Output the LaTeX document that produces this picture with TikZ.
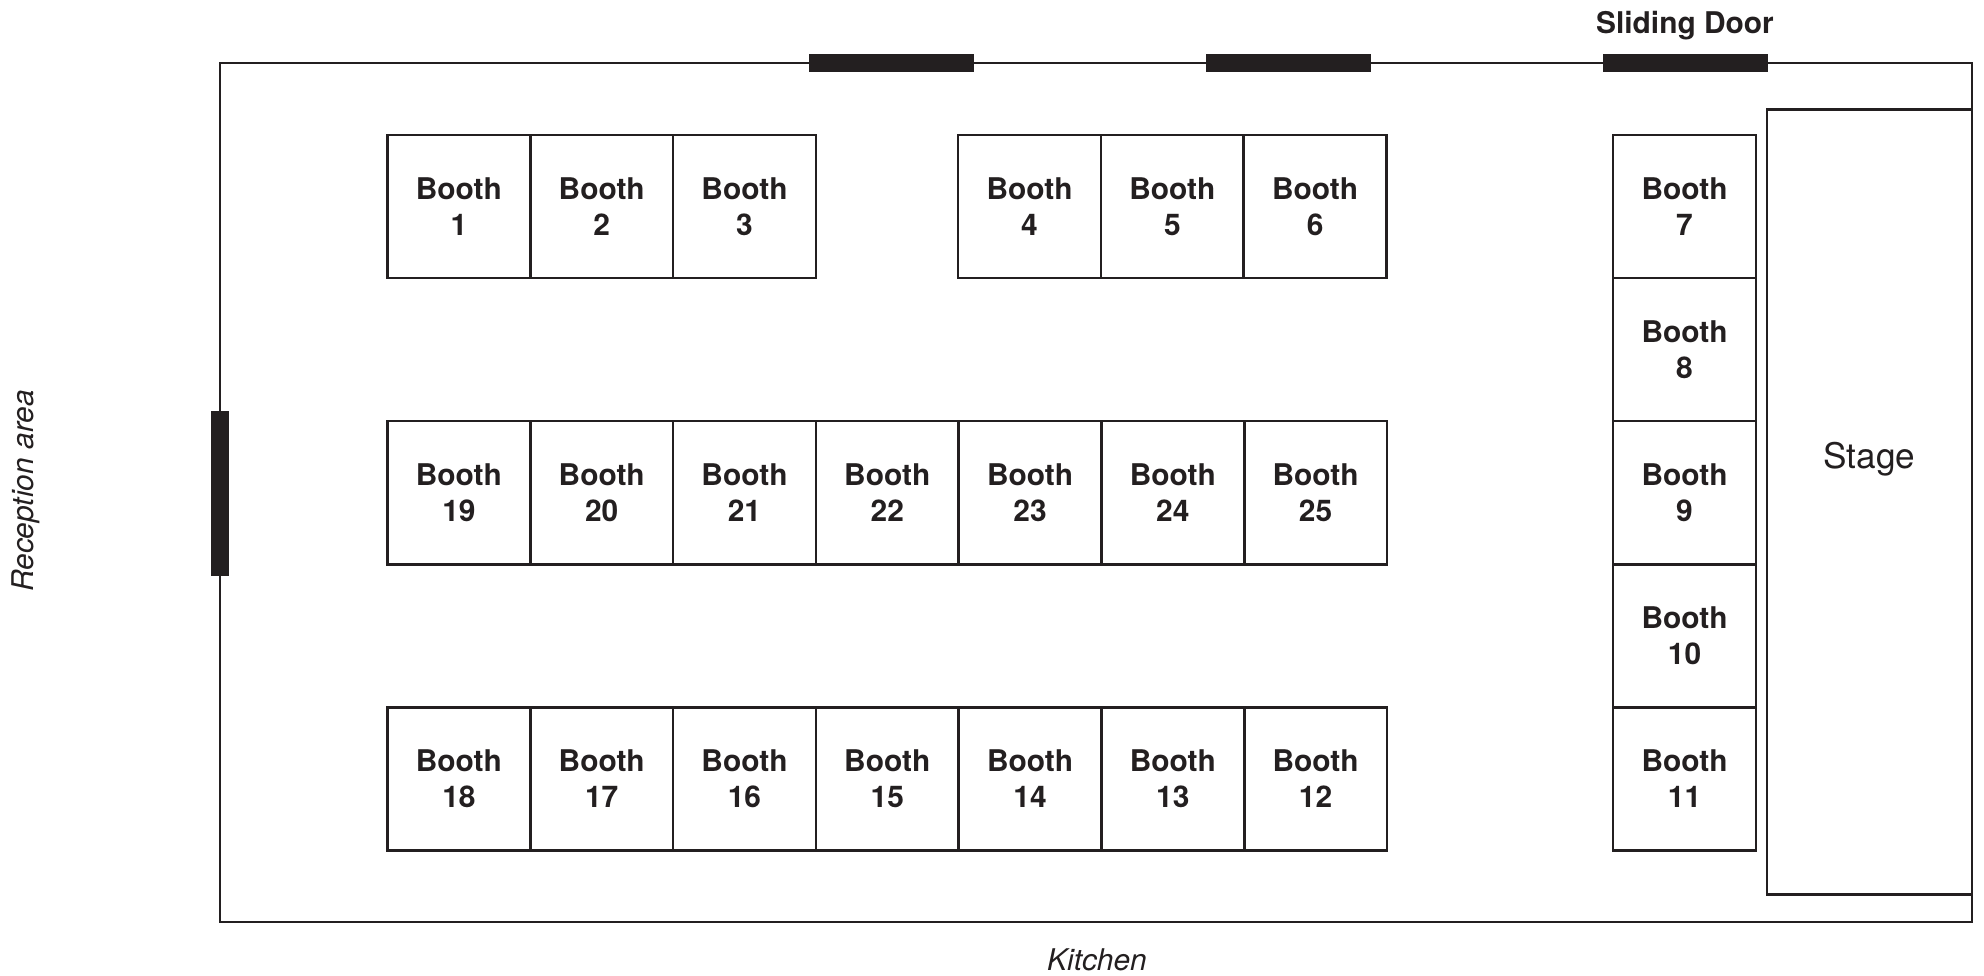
\documentclass[tikz,border=0pt]{standalone}
\usepackage{fontspec}
\setmainfont{TeX Gyre Heros}
\usetikzlibrary{positioning}
\definecolor{ink}{RGB}{35,31,32}
\begin{document}
\begin{tikzpicture}[x=0.01cm,y=-0.01cm]
    \tikzset{wall/.style={draw=ink,line width=0.75pt},door/.style={fill=ink,draw=none},booth/.style={wall,outer
        sep=0pt,minimum width=1.427cm,minimum height=1.43cm,align=center,text=ink,font=\fontsize{8.5}{10.3}\selectfont\bfseries},stagebox/.style={wall,outer
        sep=0pt,minimum width=2.05cm,minimum height=7.84cm},note/.style={text=ink,inner sep=0pt,font=\fontsize{8.5}{10}\selectfont\itshape}}
    \useasboundingbox (0,0) rectangle (1984,976);

    % room and doors
    \draw[wall] (220,63) rectangle (1972,922);
    \fill[door] (809,54) rectangle (974,72);
    \fill[door] (1206,54) rectangle (1371,72);
    \fill[door] (1603,54) rectangle (1768,72);
    \fill[door] (211,411) rectangle (229,576);

    % top row
    \node[booth] (b1) at (458.9,206.5) {Booth\\1}; \node[booth] (b2) [right=0pt of b1] {Booth\\2};
    \node[booth] (b3) [right=0pt of b2] {Booth\\3};
    \node[booth] (b4) [right=1.422cm of b3] {Booth\\4}; \node[booth] (b5) [right=0pt of b4] {Booth\\5};
    \node[booth] (b6) [right=0pt of b5] {Booth\\6};

    % middle row
    \node[booth] (b19) [below=1.43cm of b1] {Booth\\19}; \node[booth] (b20) [right=0pt of b19] {Booth\\20};
    \node[booth] (b21) [right=0pt of b20] {Booth\\21}; \node[booth] (b22) [right=0pt of b21] {Booth\\22};
    \node[booth] (b23) [right=0pt of b22] {Booth\\23}; \node[booth] (b24) [right=0pt of b23] {Booth\\24};
    \node[booth] (b25) [right=0pt of b24] {Booth\\25};

    % bottom row
    \node[booth] (b18) [below=1.43cm of b19] {Booth\\18}; \node[booth] (b17) [right=0pt of b18] {Booth\\17};
    \node[booth] (b16) [right=0pt of b17] {Booth\\16}; \node[booth] (b15) [right=0pt of b16] {Booth\\15};
    \node[booth] (b14) [right=0pt of b15] {Booth\\14}; \node[booth] (b13) [right=0pt of b14] {Booth\\13};
    \node[booth] (b12) [right=0pt of b13] {Booth\\12};

    % column by the stage
    \node[booth] (b7) at (1684.5,206.5) {Booth\\7}; \node[booth] (b8) [below=0pt of b7] {Booth\\8};
    \node[booth] (b9) [below=0pt of b8] {Booth\\9}; \node[booth] (b10) [below=0pt of b9] {Booth\\10};
    \node[booth] (b11) [below=0pt of b10] {Booth\\11};

    \node[stagebox] (stage) at (1869.5,502) {};
    \node[text=ink,font=\fontsize{10}{12}\selectfont] (stagelbl) at ([yshift=0.43cm]stage.center) {Stage};

    % labels
    \node[note,font=\fontsize{8.5}{10}\selectfont\bfseries] (slide) at (1685,26) {Sliding Door};
    \node[note] (kitchen) at (1097,960) {Kitchen};
    \node[note,rotate=90] (reception) at (26,491) {Reception area};

  \end{tikzpicture}
\end{document}
